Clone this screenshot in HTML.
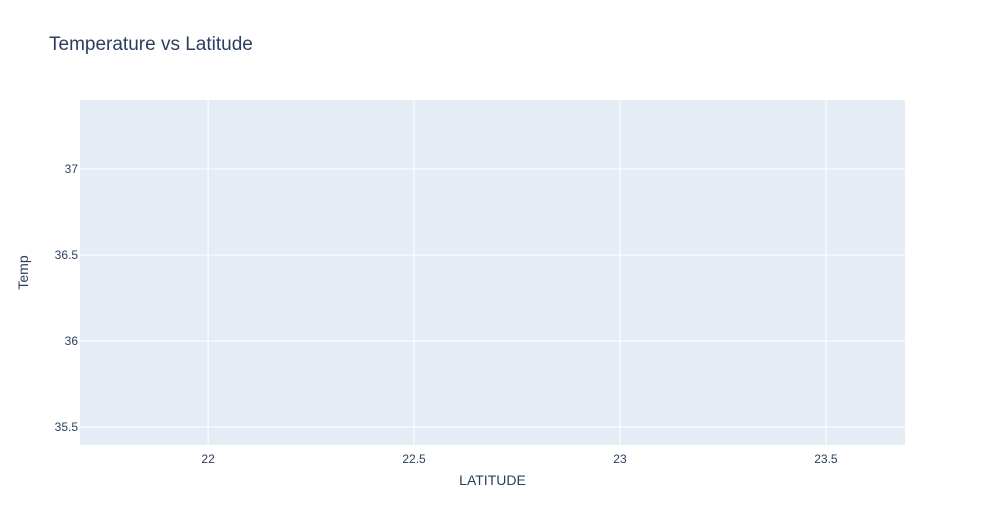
<!DOCTYPE html>
<html><head><meta charset="utf-8"><style>
body{margin:0;background:#fff;font-family:"Liberation Sans",sans-serif;}
svg text{font-family:"Liberation Sans",sans-serif;}
</style></head><body>
<svg id="chart" width="985" height="525" xmlns="http://www.w3.org/2000/svg">
<rect x="0" y="0" width="985" height="525" fill="#fff"/>
<text x="49" y="50" font-size="19" fill="#2a3f5f">Temperature vs Latitude</text>
<rect x="80" y="100" width="825" height="345" fill="#e5ecf6"/>
<g id="grid"></g>
<g id="ticks"></g>
<text x="492.5" y="485" font-size="14" fill="#2a3f5f" text-anchor="middle">LATITUDE</text>
<text x="28" y="272.5" font-size="14" fill="#2a3f5f" text-anchor="middle" transform="rotate(-90 28 272.5)">Temp</text>
</svg>
<script>
const xTicks=[22,22.5,23,23.5];
const yTicks=[35.5,36,36.5,37];
const xLabels=["22","22.5","23","23.5"];
const yLabels=["35.5","36","36.5","37"];
const xRange=[21.689,23.692], yRange=[35.395,37.401];
const L=80,R=905,T=100,B=445;
const xs=v=>L+(v-xRange[0])/(xRange[1]-xRange[0])*(R-L);
const ys=v=>B-(v-yRange[0])/(yRange[1]-yRange[0])*(B-T);
const NS="http://www.w3.org/2000/svg";
const grid=document.getElementById('grid'),ticks=document.getElementById('ticks');
function mk(tag,attrs,parent){const e=document.createElementNS(NS,tag);for(const k in attrs)e.setAttribute(k,attrs[k]);parent.appendChild(e);return e;}
xTicks.forEach((v,i)=>{
 const x=xs(v);
 const l=mk('line',{x1:x,x2:x,y1:T,y2:B,stroke:'#fff','stroke-width':1},grid);
 
 
 const t=mk('text',{x:x,y:B+18,'font-size':12,fill:'#2a3f5f','text-anchor':'middle'},ticks);
 t.textContent=xLabels[i];
 
 
});
yTicks.forEach((v,i)=>{
 const y=ys(v);
 const l=mk('line',{x1:L,x2:R,y1:y,y2:y,stroke:'#fff','stroke-width':1},grid);
 
 
 const t=mk('text',{x:L-2,y:y+4,'font-size':12,fill:'#2a3f5f','text-anchor':'end'},ticks);
 t.textContent=yLabels[i];
 
 
});
</script>
</body></html>
